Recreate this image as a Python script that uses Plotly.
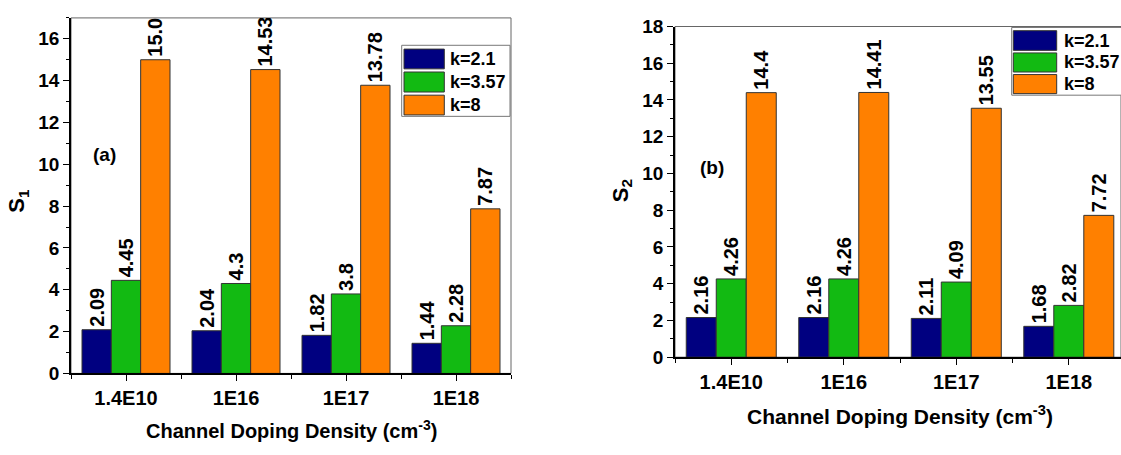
import plotly.graph_objects as go

# ---- data ----
categories = ["1.4E10", "1E16", "1E17", "1E18"]
series_names = ["k=2.1", "k=3.57", "k=8"]
series_colors = ["#000080", "#12BA12", "#FF8000"]

s1_k21 = [2.09, 2.04, 1.82, 1.44]
s1_k357 = [4.45, 4.3, 3.8, 2.28]
s1_k8 = [15.0, 14.53, 13.78, 7.87]

s2_k21 = [2.16, 2.16, 2.11, 1.68]
s2_k357 = [4.26, 4.26, 4.09, 2.82]
s2_k8 = [14.4, 14.41, 13.55, 7.72]

s1_ticks = list(range(0, 17, 2))
s2_ticks = list(range(0, 19, 2))

# ---- styling ----
W, H = 1121, 455
FONT = "Liberation Sans, Arial, sans-serif"
positions = list(range(len(categories)))


def px(x):
    return x / W


def py(y):
    return 1 - y / H


fig = go.Figure()

panels = [
    ("x", "y", [s1_k21, s1_k357, s1_k8]),
    ("x2", "y2", [s2_k21, s2_k357, s2_k8]),
]
for xa, ya, groups in panels:
    for name, color, vals in zip(series_names, series_colors, groups):
        fig.add_trace(go.Bar(
            x=positions, y=vals, name=name, xaxis=xa, yaxis=ya,
            marker=dict(color=color, line=dict(color="#333333", width=1)),
            text=[str(v) for v in vals], textposition="outside",
            textangle=-90, constraintext="none", cliponaxis=True,
            textfont=dict(family=FONT, size=20, color="black", weight="bold"),
            showlegend=False,
        ))


def xaxis_style(domain, rng):
    return dict(
        domain=domain, range=rng, tickmode="array", tickvals=positions,
        ticktext=categories, ticks="outside", ticklen=6, tickwidth=1.2,
        tickcolor="black", showline=True, linecolor="black", linewidth=1.5,
        showgrid=False, zeroline=False,
        tickfont=dict(family=FONT, size=20, color="black", weight="bold"),
        minor=dict(tickmode="linear", tick0=-0.5, dtick=1, ticks="outside",
                   ticklen=4, tickcolor="black", tickwidth=1.2, showgrid=False),
    )


def yaxis_style(domain, rng, ticks, anchor):
    return dict(
        domain=domain, range=rng, anchor=anchor, tickmode="array",
        tickvals=ticks, ticks="outside", ticklen=6, tickwidth=1.2,
        tickcolor="black", showline=True, linecolor="black", linewidth=1.5,
        showgrid=False, zeroline=False,
        tickfont=dict(family=FONT, size=19, color="black", weight="bold"),
        minor=dict(tickmode="linear", tick0=1, dtick=2, ticks="outside",
                   ticklen=3, tickcolor="black", tickwidth=1.2, showgrid=False),
    )


fig.update_layout(
    width=W, height=H, margin=dict(l=0, r=0, t=0, b=0),
    paper_bgcolor="white", plot_bgcolor="white",
    barmode="group", bargap=0.2, bargroupgap=0,
    xaxis=dict(anchor="y", **xaxis_style([px(71), px(511)], [-0.5, 3.5])),
    yaxis=yaxis_style([py(381), py(8.3)], [0, 17], s1_ticks, "x"),
    xaxis2=dict(anchor="y2", **xaxis_style([px(675), 1.0], [-0.5, 3.464])),
    yaxis2=yaxis_style([py(364), py(17.3)], [0, 18], s2_ticks, "x2"),
)

shapes = []
annotations = []


def label(x, y, text, size, angle=0):
    annotations.append(dict(xref="paper", yref="paper", x=px(x), y=py(y),
                            xanchor="center", yanchor="middle",
                            text=text, textangle=angle, showarrow=False,
                            font=dict(family=FONT, size=size, color="black")))


# panel frames (top / right edges)
for xr, yr in [("x domain", "y domain"), ("x2 domain", "y2 domain")]:
    shapes.append(dict(type="rect", xref=xr, yref=yr, x0=0, x1=1, y0=0, y1=1,
                       line=dict(color="#666666", width=1), layer="below"))

# legends: box, swatch column, row extents, text start
legend_specs = [
    dict(box=(401.7, 510.0, 37.0, 111.5), sw=(404.0, 444.3),
         rows=[(41.0, 61.7), (65.0, 86.0), (89.3, 110.0)], tx=448.0),
    dict(box=(1011.7, 1135.0, 18.3, 89.3), sw=(1013.3, 1056.7),
         rows=[(21.7, 42.3), (45.0, 65.0), (67.7, 87.7)], tx=1061.7),
]
for spec in legend_specs:
    bx0, bx1, by0, by1 = spec["box"]
    shapes.append(dict(type="rect", xref="paper", yref="paper",
                       x0=px(bx0), x1=px(bx1), y0=py(by1), y1=py(by0),
                       fillcolor="white", line=dict(color="#777777", width=1)))
    for (r0, r1), name, color in zip(spec["rows"], series_names, series_colors):
        shapes.append(dict(type="rect", xref="paper", yref="paper",
                           x0=px(spec["sw"][0]), x1=px(spec["sw"][1]),
                           y0=py(r1), y1=py(r0), fillcolor=color,
                           line=dict(color="#333333", width=1)))
        annotations.append(dict(xref="paper", yref="paper", x=px(spec["tx"]),
                                y=py((r0 + r1) / 2), xanchor="left",
                                yanchor="middle", showarrow=False,
                                text=f"<b>{name}</b>",
                                font=dict(family=FONT, size=18, color="black")))

# panel tags
label(104, 152, "<b>(a)</b>", 19)
label(712, 165, "<b>(b)</b>", 19)

# axis titles
label(18, 200, "<b>S<sub>1</sub></b>", 22, -90)
label(622, 190, "<b>S<sub>2</sub></b>", 22, -90)
label(291, 440, "<b>Channel Doping Density (cm<sup>-3</sup>)</b>", 20)
label(900, 425, "<b>Channel Doping Density (cm<sup>-3</sup>)</b>", 21)

fig.update_layout(shapes=shapes, annotations=annotations)

fig.write_html("out.html")
